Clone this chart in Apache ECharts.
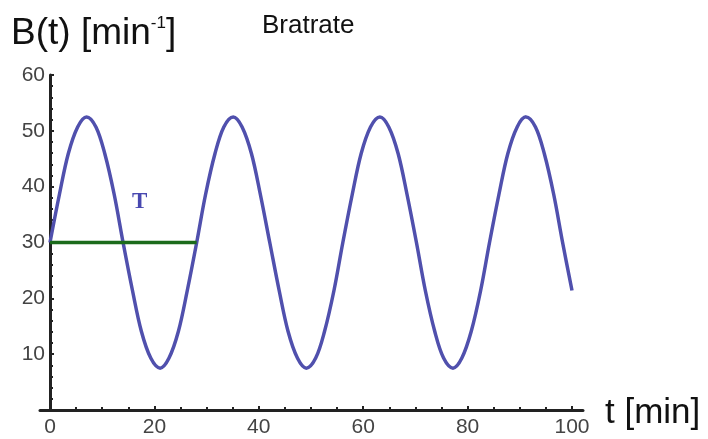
<!DOCTYPE html>
<html>
<head>
<meta charset="utf-8">
<script src="https://cdn.jsdelivr.net/npm/echarts@6/dist/echarts.min.js"></script>
<style>
html,body{margin:0;padding:0;background:#fff;}
#c{width:708px;height:439px;}
</style>
</head>
<body>
<div id="c"></div>
<script>
// time points (min)
const tValues = [0,1.8,3.5,5.3,7.0,8.8,10.5,12.3,14.0,15.8,17.5,19.3,21.1,22.8,24.6,26.3,
  28.1,29.8,31.6,33.3,35.1,36.8,38.6,40.3,42.1,43.9,45.6,47.4,49.1,50.9,52.6,54.4,
  56.1,57.9,59.6,61.4,63.2,64.9,66.7,68.4,70.2,71.9,73.7,75.4,77.2,78.9,80.7,82.5,
  84.2,86.0,87.7,89.5,91.2,93.0,94.7,96.5,98.2,100];
// B(t) values (1/min)
const bValues = [30,38.6,45.9,50.7,52.5,50.7,45.9,38.6,30,21.4,14.1,9.3,7.5,9.3,14.1,21.4,
  30,38.6,45.9,50.7,52.5,50.7,45.9,38.6,30,21.4,14.1,9.3,7.5,9.3,14.1,21.4,
  30,38.6,45.9,50.7,52.5,50.7,45.9,38.6,30,21.4,14.1,9.3,7.5,9.3,14.1,21.4,
  30,38.6,45.9,50.7,52.5,50.7,45.9,38.6,30,21.4];
// period marker T
const periodStart = 0, periodEnd = 28.1, periodLevel = 30;
const periodLabel = 'T';
const periodLabelAt = [17.2, 37.3];

const chart = echarts.init(document.getElementById('c'), null, {renderer:'canvas'});
const font = 'Liberation Sans, Arial, sans-serif';
const axisCol = '#222';
const curveCol = '#5050ad';
chart.setOption({
  backgroundColor:'#fff',
  animation:false,
  title:[
    {text:'{m|B(t) [min}{s|-1}{m|]}', left:11, top:15, padding:0,
     textStyle:{rich:{m:{fontSize:37,fontFamily:font,color:'#111',fontWeight:'normal'},
                      s:{fontSize:17,fontFamily:font,color:'#111',fontWeight:'normal',verticalAlign:'top',padding:[0,0,18,0]}}}},
    {text:'Bratrate', left:262, top:13, padding:0, textStyle:{fontSize:26,fontWeight:'normal',fontFamily:font,color:'#111'}},
    {text:'t [min]', left:605, top:396, padding:0, textStyle:{fontSize:35,fontWeight:'normal',fontFamily:font,color:'#111'}}
  ],
  grid:[{left:50,right:136,top:75,bottom:29},{left:40,right:125,top:75,bottom:29}],
  xAxis:[{
    type:'value', gridIndex:0, min:0, max:100, interval:20,
    axisLine:{show:false},
    axisTick:{show:true, inside:true, length:4, lineStyle:{color:axisCol,width:2}},
    minorTick:{show:true, splitNumber:4, length:3, lineStyle:{color:axisCol,width:2}},
    axisLabel:{fontSize:21, color:'#444', fontFamily:font, margin:7},
    splitLine:{show:false}
  },{
    type:'value', gridIndex:1, min:0, max:1,
    axisLine:{show:true, onZero:false, lineStyle:{color:axisCol,width:3}},
    axisTick:{show:false}, axisLabel:{show:false}, splitLine:{show:false}
  }],
  yAxis:[{
    type:'value', gridIndex:0, min:0, max:60, interval:10,
    axisLine:{show:true, lineStyle:{color:axisCol,width:3}},
    axisTick:{show:true, inside:true, length:4, lineStyle:{color:axisCol,width:2}},
    minorTick:{show:true, splitNumber:5, length:3, lineStyle:{color:axisCol,width:2}},
    axisLabel:{fontSize:21, color:'#444', fontFamily:font, margin:5,
      formatter:v=> v===0 ? '' : String(v)},
    splitLine:{show:false}
  },{
    type:'value', gridIndex:1, min:0, max:1, show:false
  }],
  series:[
    {type:'line', xAxisIndex:0, yAxisIndex:0, data:tValues.map((t,i)=>[t,bValues[i]]), smooth:0.35,
     showSymbol:false, lineStyle:{color:curveCol, width:3.5}, z:3},
    {type:'line', xAxisIndex:0, yAxisIndex:0, data:[[periodStart,periodLevel],[periodEnd,periodLevel]],
     showSymbol:false, lineStyle:{color:'#1b6b1b', width:3.5}, z:4},
    {type:'scatter', xAxisIndex:0, yAxisIndex:0, data:[periodLabelAt], symbolSize:1,
     itemStyle:{color:'rgba(0,0,0,0)', opacity:1},
     label:{show:true, position:'inside', formatter:periodLabel, fontSize:23, fontWeight:'bold',
       fontFamily:'Liberation Serif, Times New Roman, serif', color:'#4848b0', textBorderWidth:0, opacity:1}}
  ]
});
</script>
</body>
</html>
